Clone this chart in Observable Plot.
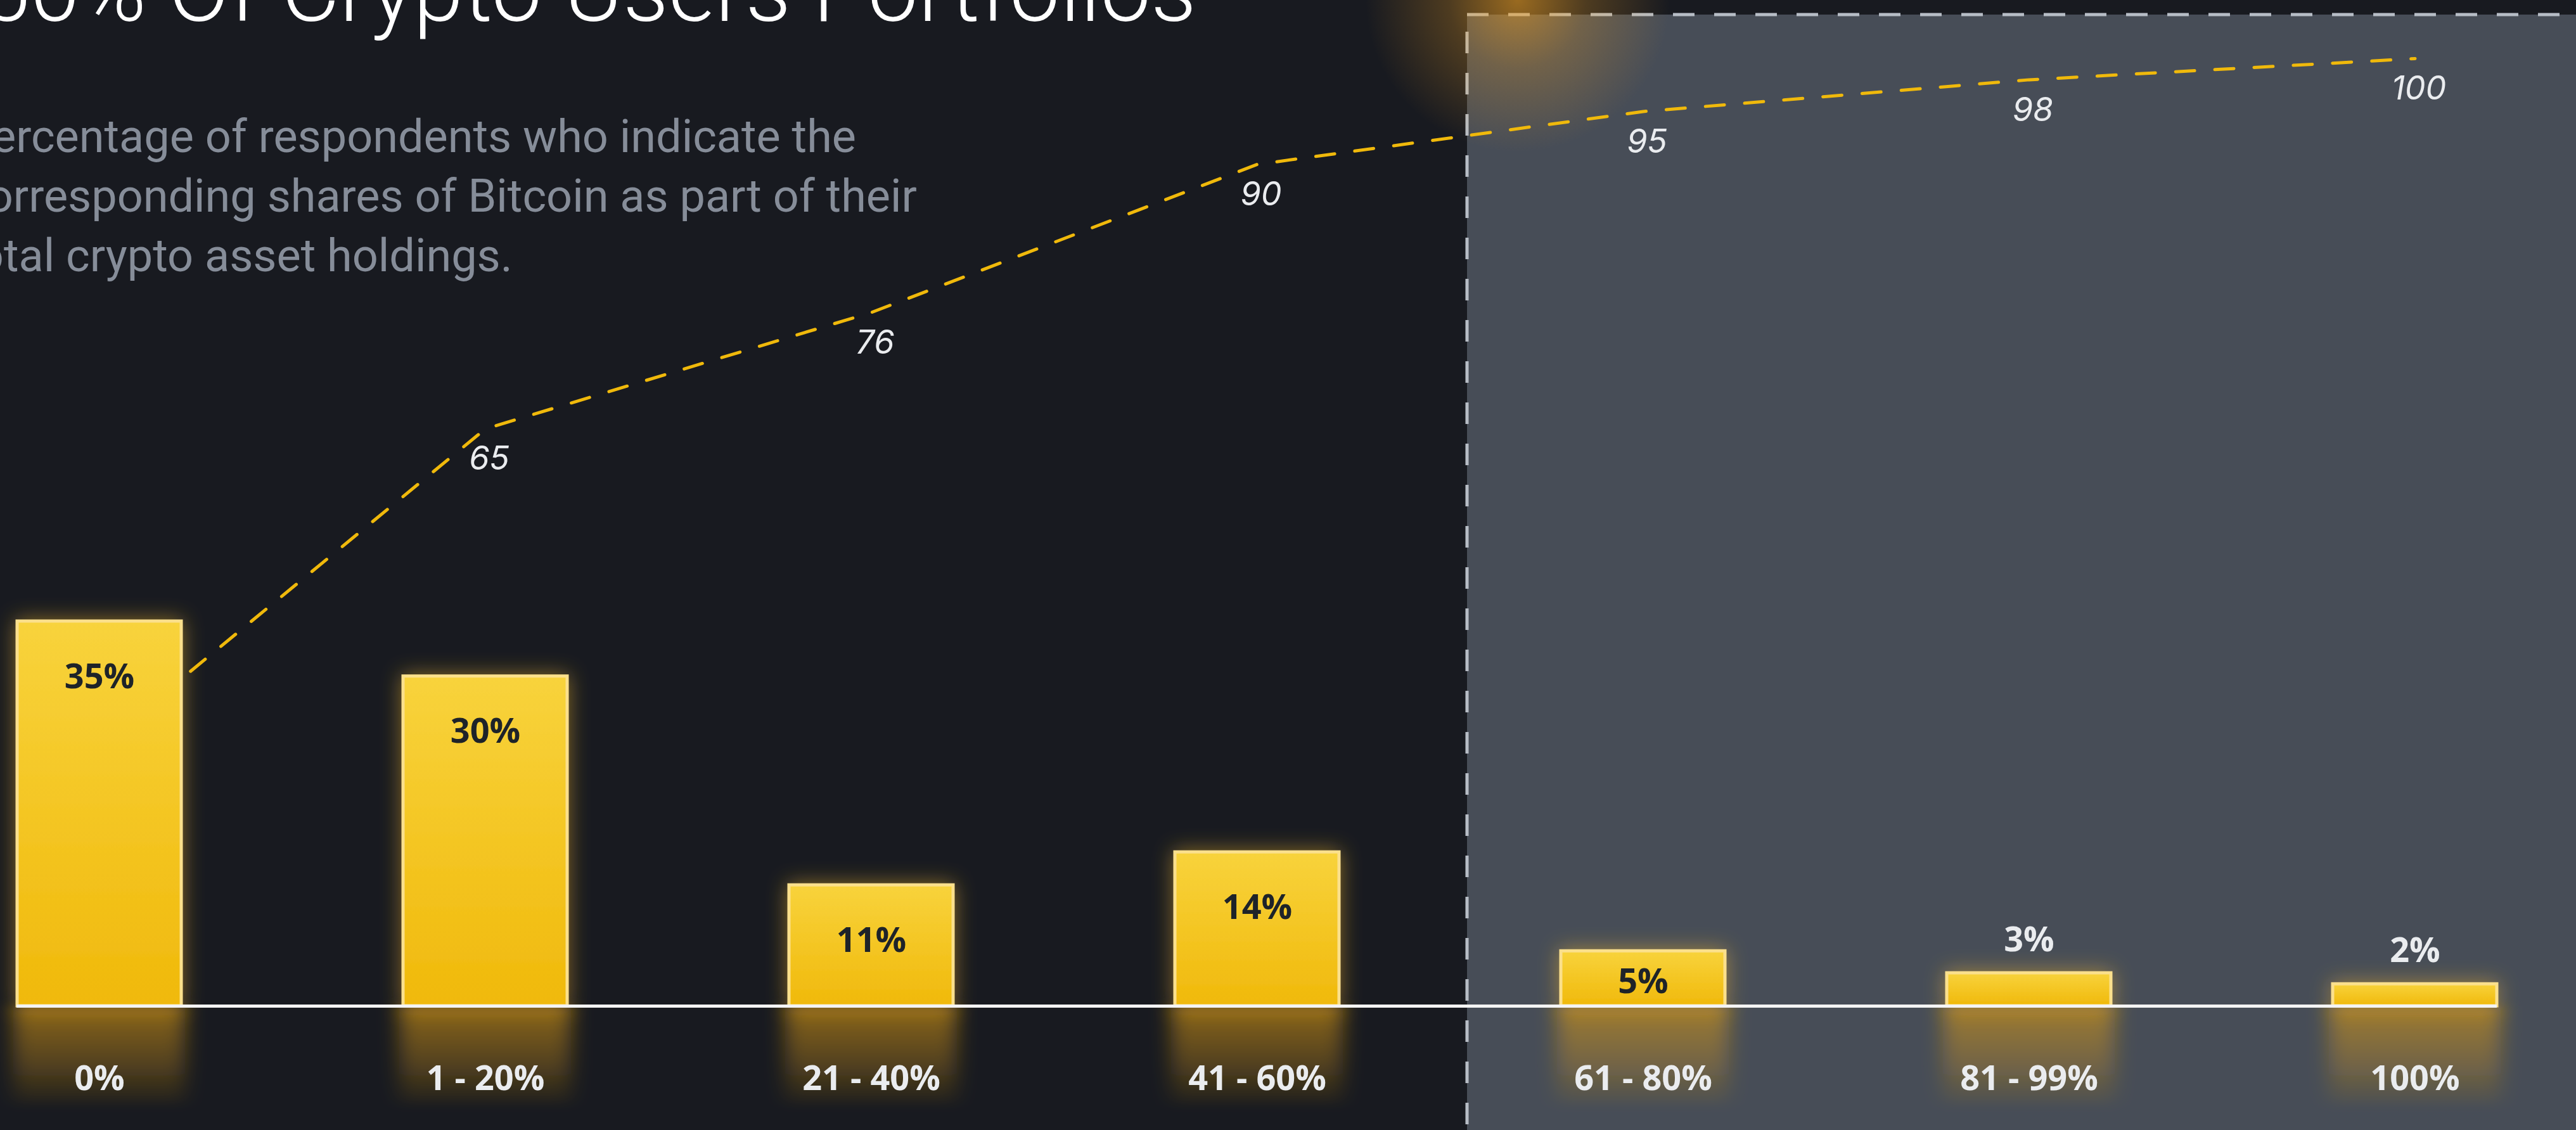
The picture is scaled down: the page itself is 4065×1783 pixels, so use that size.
<!DOCTYPE html>
<html>
<head>
<meta charset="utf-8">
<script src="https://cdn.jsdelivr.net/npm/d3@7"></script>
<script src="https://cdn.jsdelivr.net/npm/@observablehq/plot@0.6"></script>
<style>
  html, body { margin: 0; padding: 0; background: #181a20; overflow: hidden; }
  #wrap { position: relative; width: 4065px; height: 1783px; overflow: hidden; background: #181a20; }
  #wrap > svg { position: absolute; left: 0; top: 0; }
</style>
</head>
<body>
<div id="wrap"></div>
<script>
// ---- data ----
const categories = ["0%", "1 - 20%", "21 - 40%", "41 - 60%", "61 - 80%", "81 - 99%", "100%"];
const shares = [35, 30, 11, 14, 5, 3, 2];
const cumulative = [35, 65, 76, 90, 95, 98, 100];
const highlightFrom = "61 - 80%";
const titleText = "Bitcoin Makes Up Less Than 50% Of Crypto Users Portfolios";
const subtitleLines = [
  "Percentage of respondents who indicate the",
  "corresponding shares of Bitcoin as part of their",
  "total crypto asset holdings."
];

const barData = categories.map((c, i) => ({category: c, share: shares[i]}));
const cumData = categories.map((c, i) => ({category: c, value: cumulative[i]}));

const W = 4065, H = 1783;
const ML = 26, MR = 125;
const xOpts = {type: "band", domain: categories, paddingInner: 0.575, paddingOuter: 0, axis: null};
const yellow = "#f0b90b";
const light = "#eaecef";
const boldFont = "'Open Sans', Inter, sans-serif";

// ---- cumulative line (secondary scale) ----
const linePlot = Plot.plot({
  width: W, height: H,
  marginLeft: ML, marginRight: MR, marginTop: 92, marginBottom: 22,
  x: xOpts,
  y: {domain: [0, 100], axis: null},
  style: {background: "transparent", overflow: "visible", fontFamily: "Inter, Roboto, sans-serif"},
  marks: [
    Plot.line(cumData, {x: "category", y: "value", stroke: yellow, strokeWidth: 5, strokeDasharray: "30 32"}),
    Plot.text(cumData, {x: "category", y: "value", text: d => String(d.value), dy: 48, dx: 6,
      fontSize: 52, fontStyle: "italic", fill: light})
  ]
});

// ---- bars ----
const barPlot = Plot.plot({
  width: W, height: H,
  marginLeft: ML, marginRight: MR, marginTop: 0, marginBottom: 196,
  x: xOpts,
  y: {domain: [0, 91.5], axis: null},
  style: {background: "transparent", overflow: "visible", fontFamily: boldFont},
  marks: [
    Plot.barY(barData, {x: "category", y1: 0, y2: -9, fill: "url(#reflectGrad)", insetLeft: -6, insetRight: -6}),
    Plot.barY(barData, {x: "category", y: "share", fill: "url(#barGrad)", stroke: "#fbe08c", strokeWidth: 5}),
    Plot.ruleY([0], {stroke: "#f4f4f4", strokeWidth: 5}),
    Plot.text(barData.filter(d => d.share >= 10), {x: "category", y: "share", text: d => d.share + "%",
      dy: 88, fill: "#1e2329", fontWeight: 700, fontSize: 54}),
    Plot.text(barData.filter(d => d.share >= 5 && d.share < 10), {x: "category", y: d => d.share / 2,
      text: d => d.share + "%", dy: 6, fill: "#1e2329", fontWeight: 700, fontSize: 54}),
    Plot.text(barData.filter(d => d.share < 5), {x: "category", y: "share", text: d => d.share + "%",
      dy: -52, fill: light, fontWeight: 700, fontSize: 54}),
    Plot.text(categories, {x: d => d, frameAnchor: "bottom", dy: 132, text: d => d,
      fill: light, fontWeight: 700, fontSize: 54})
  ]
});

// ---- defs: gradients / filters ----
const bsvg = d3.select(barPlot);
const bdefs = bsvg.insert("defs", ":first-child");
const bg = bdefs.append("linearGradient").attr("id", "barGrad").attr("x1", 0).attr("y1", 0).attr("x2", 0).attr("y2", 1);
bg.append("stop").attr("offset", "0%").attr("stop-color", "#f8d33c");
bg.append("stop").attr("offset", "100%").attr("stop-color", "#f0b90b");
const rg = bdefs.append("linearGradient").attr("id", "reflectGrad").attr("x1", 0).attr("y1", 0).attr("x2", 0).attr("y2", 1);
rg.append("stop").attr("offset", "0%").attr("stop-color", "#d99a18").attr("stop-opacity", 0.6);
rg.append("stop").attr("offset", "60%").attr("stop-color", "#d99a18").attr("stop-opacity", 0.3);
rg.append("stop").attr("offset", "100%").attr("stop-color", "#d99a18").attr("stop-opacity", 0.04);
const gf = bdefs.append("filter").attr("id", "barGlow").attr("x", "-40%").attr("y", "-40%").attr("width", "180%").attr("height", "180%");
gf.append("feGaussianBlur").attr("in", "SourceGraphic").attr("stdDeviation", 16).attr("result", "b");
gf.append("feColorMatrix").attr("in", "b").attr("type", "matrix")
  .attr("values", "1 0 0 0 0  0 0.75 0 0 0  0 0 0.2 0 0  0 0 0 0.5 0").attr("result", "g");
const gm = gf.append("feMerge");
gm.append("feMergeNode").attr("in", "g");
gm.append("feMergeNode").attr("in", "SourceGraphic");
const sf = bdefs.append("filter").attr("id", "soft").attr("x", "-40%").attr("y", "-40%").attr("width", "180%").attr("height", "180%");
sf.append("feGaussianBlur").attr("stdDeviation", "16 8");
const barGroups = bsvg.selectAll('g[aria-label="bar"]').nodes();
if (barGroups[0]) barGroups[0].setAttribute("filter", "url(#soft)");
if (barGroups[1]) barGroups[1].setAttribute("filter", "url(#barGlow)");

// ---- highlighted zone, derived from the band scale ----
const xs = linePlot.scale("x");
const zoneLeft = xs.range[0] + categories.indexOf(highlightFrom) * xs.step - (xs.step - xs.bandwidth) * 0.42;
const lsvg = d3.select(linePlot);
const ldefs = lsvg.insert("defs", ":first-child");
const tg = ldefs.append("radialGradient").attr("id", "topGlow");
tg.append("stop").attr("offset", "0%").attr("stop-color", "#f0a020").attr("stop-opacity", 0.6);
tg.append("stop").attr("offset", "45%").attr("stop-color", "#f0a020").attr("stop-opacity", 0.25);
tg.append("stop").attr("offset", "100%").attr("stop-color", "#f0a020").attr("stop-opacity", 0);
const zoneG = lsvg.insert("g", "defs + *");
zoneG.append("rect")
  .attr("x", zoneLeft).attr("y", 23).attr("width", W - zoneLeft + 40).attr("height", H)
  .attr("fill", "#474d57").attr("stroke", "#b7bdc6").attr("stroke-width", 5).attr("stroke-dasharray", "34 31");
zoneG.append("circle").attr("cx", zoneLeft + 80).attr("cy", 0).attr("r", 240).attr("fill", "url(#topGlow)");

// ---- header (title + subtitle) ----
const header = d3.create("svg").attr("width", W).attr("height", 480).style("overflow", "visible");
header.append("text")
  .attr("x", 1888).attr("y", 33).attr("text-anchor", "end")
  .attr("font-family", "Roboto, sans-serif").attr("font-weight", 300).attr("font-size", 142)
  .attr("fill", "#ffffff").text(titleText);
subtitleLines.forEach((line, i) => {
  header.append("text")
    .attr("x", -58).attr("y", 240 + i * 94)
    .attr("font-family", "Roboto, sans-serif").attr("font-size", 72)
    .attr("fill", "#868d99").text(line);
});

const wrap = document.getElementById("wrap");
wrap.appendChild(linePlot);
wrap.appendChild(barPlot);
wrap.appendChild(header.node());
</script>
</body>
</html>
